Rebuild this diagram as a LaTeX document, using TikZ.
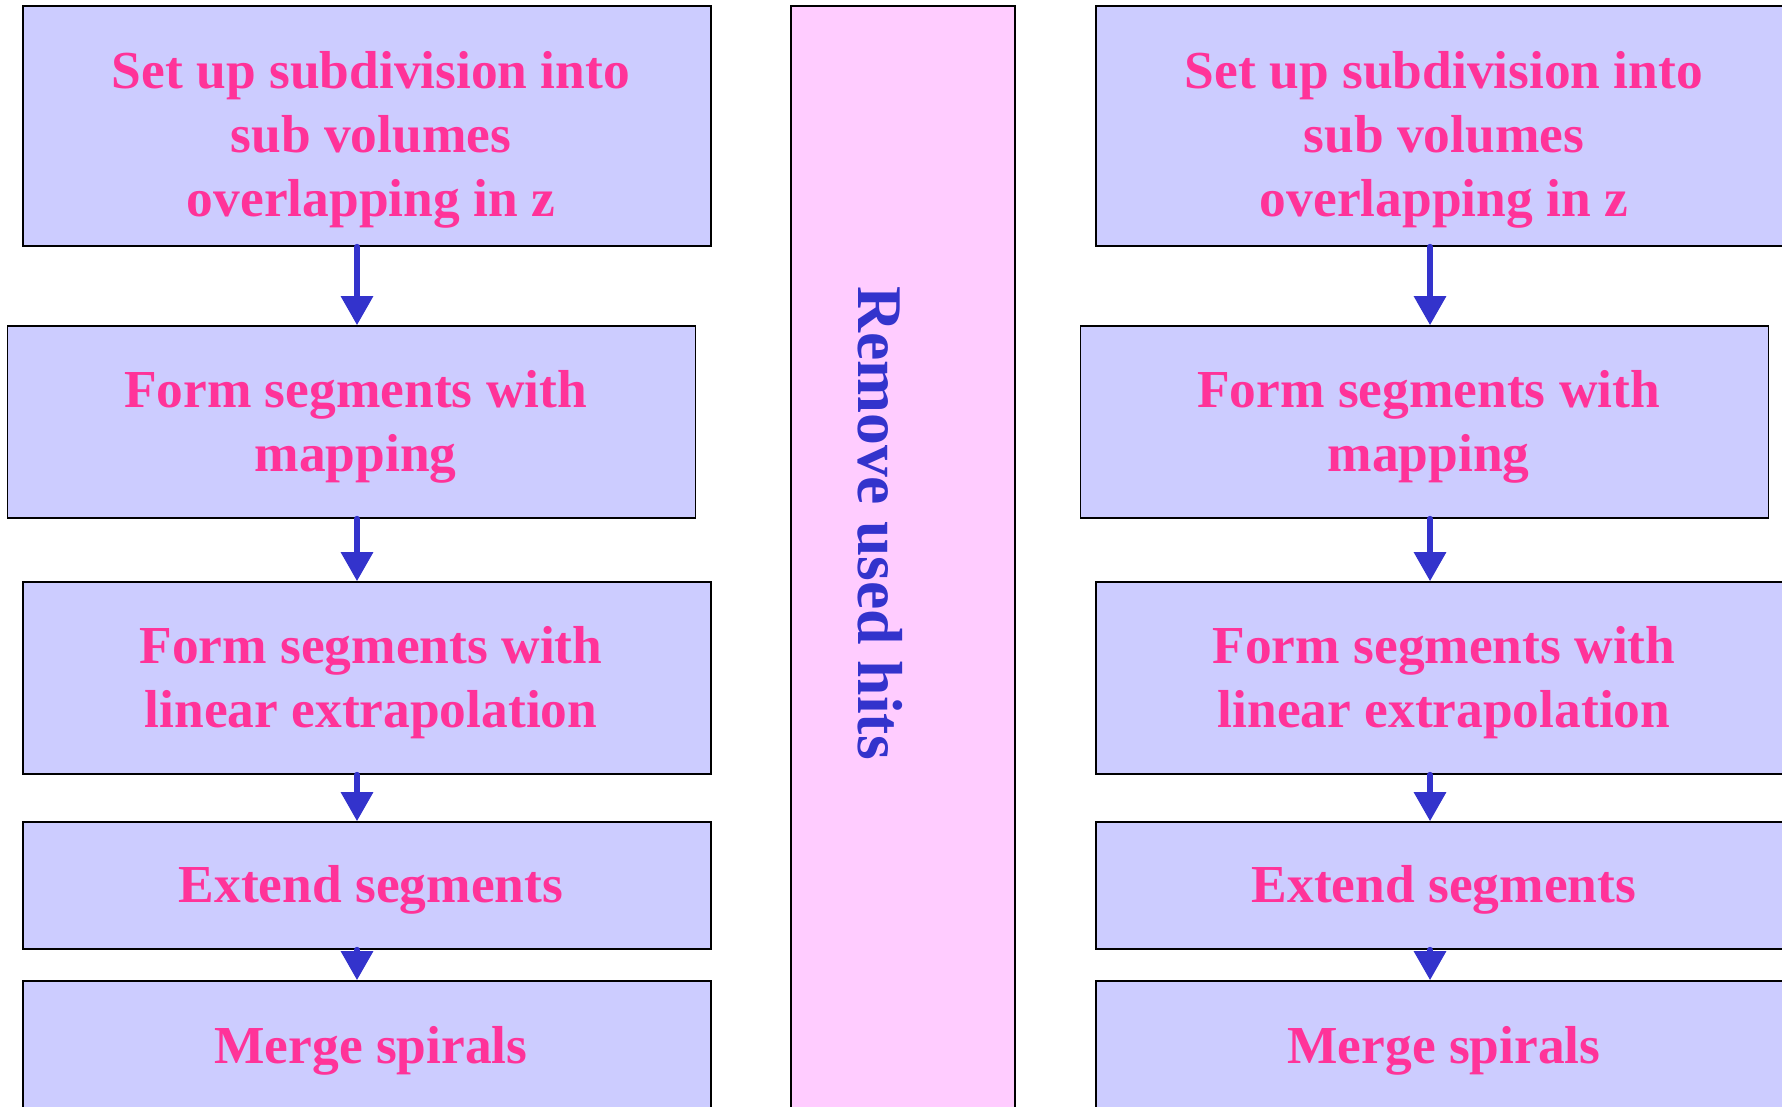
\documentclass[tikz,border=0pt]{standalone}
\usepackage{fontspec}
\setmainfont{Liberation Serif}
\usepackage{tikz}
\usetikzlibrary{arrows.meta, positioning}
\tikzset{>={Triangle[width=3.1mm, length=2.9mm]}}
\definecolor{stepfill}{RGB}{204,204,255}
\definecolor{hitsfill}{RGB}{255,204,255}
\definecolor{steptext}{RGB}{255,51,153}
\definecolor{flowblue}{RGB}{51,51,204}
\tikzset{
  stepbox/.style={draw=black, line width=0.45pt, fill=stepfill,
    minimum width=6.88cm, inner sep=0pt},
  steplbl/.style={text=steptext, font=\fontsize{15.2}{18.2}\selectfont\bfseries,
    align=center, inner sep=0pt, xshift=0.4mm},
  flow/.style={->, draw=flowblue, fill=flowblue, line width=1.7pt, line cap=round},
}

\begin{document}
\begin{tikzpicture}
  \useasboundingbox (0,0) rectangle (17.82,-11.06);
  \clip (0,0) rectangle (17.82,-11.06);
  % middle column
  \node[draw=black, line width=0.45pt, fill=hitsfill, minimum width=2.24cm,
    minimum height=11.24cm, inner sep=0pt] (hits) at (9.03,-5.68) {};
  \node[rotate=-90, text=flowblue, font=\fontsize{18.1}{21}\selectfont\bfseries]
    (hitslbl) at (8.80,-5.23) {Remove used hits};
  % the two columns are the same
  \foreach \col/\dx in {l/0, r/10.73} {
    \begin{scope}[xshift=\dx cm]
      \node[stepbox, minimum height=2.40cm] (\col1) at (3.67,-1.26) {};
      \node[stepbox, minimum height=1.92cm] (\col2) at (3.515,-4.22) {};
      \node[stepbox, minimum height=1.92cm] (\col3) at (3.67,-6.78) {};
      \node[stepbox, minimum height=1.27cm] (\col4) at (3.67,-8.855) {};
      \node[stepbox, minimum height=1.40cm] (\col5) at (3.67,-10.51) {};
      % labels sit a little low in the boxes
      \node[steplbl] (\col1t) at ([yshift=-1.35mm]\col1.center)
        {Set up subdivision into\\sub volumes\\overlapping in z};
      \node[steplbl] (\col2t) at ([yshift=-0.45mm]\col2.center)
        {Form segments with\\mapping};
      \node[steplbl] (\col3t) at ([yshift=-0.5mm]\col3.center)
        {Form segments with\\linear extrapolation};
      \node[steplbl] (\col4t) at ([yshift=-0.45mm]\col4.center)
        {Extend segments};
      \node[steplbl] (\col5t) at (\col5.center) {Merge spirals};
      \coordinate (\col ax) at (3.57,0);
      \draw[flow] (\col1.south -| \col ax) -- (\col2.north -| \col ax);
      \draw[flow] (\col2.south -| \col ax) -- (\col3.north -| \col ax);
      \draw[flow] (\col3.south -| \col ax) -- (\col4.north -| \col ax);
      \draw[flow] (\col4.south -| \col ax) -- (\col5.north -| \col ax);
    \end{scope}
  }
\end{tikzpicture}
\end{document}
